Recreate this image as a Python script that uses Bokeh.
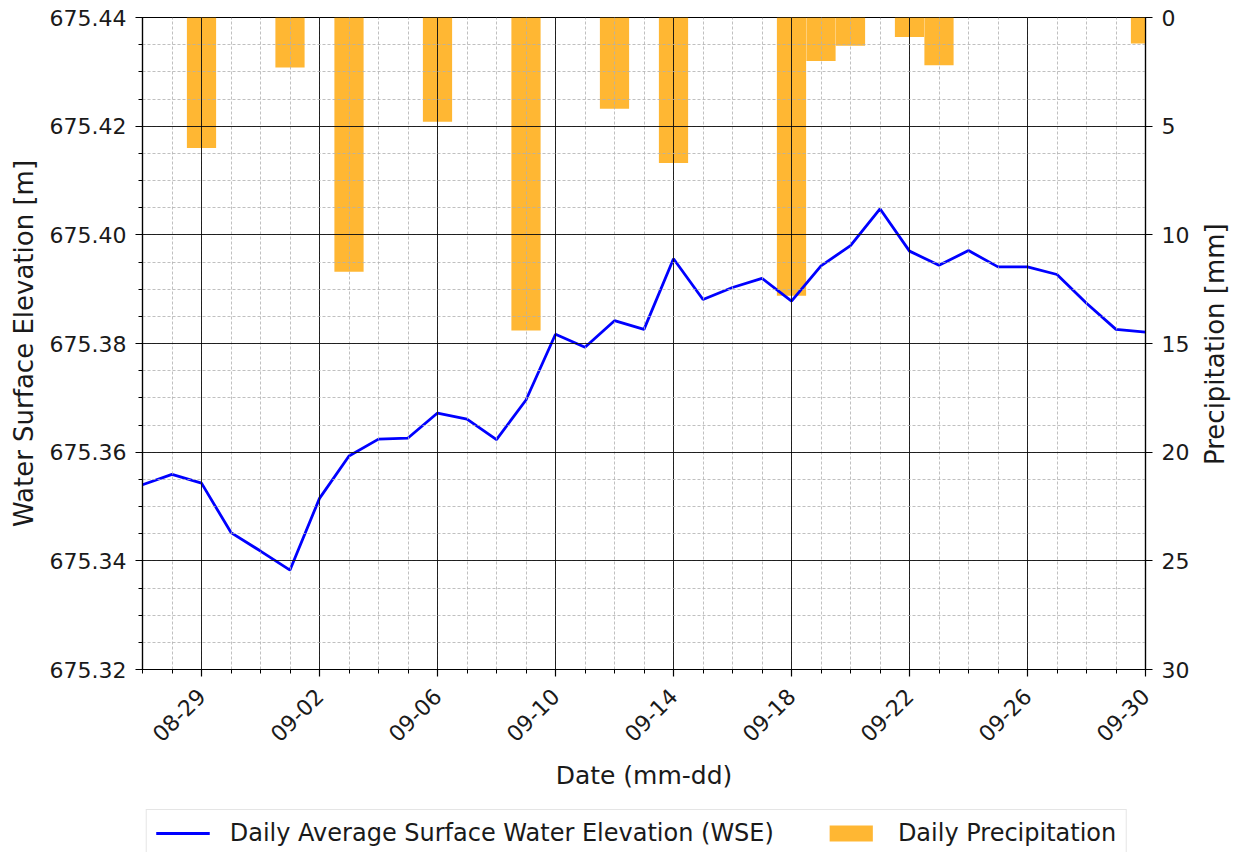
import math
import pandas as pd
from bokeh.plotting import figure
from bokeh.layouts import column
from bokeh.models import (Range1d, LinearAxis, SingleIntervalTicker, FixedTicker,
                          DatetimeTickFormatter, NumeralTickFormatter, Legend, LegendItem,
                          ColumnDataSource)
from bokeh.embed import file_html
from bokeh.resources import INLINE

YEAR = "2023"
# ---- data -------------------------------------------------------------
wse_dates = list(pd.date_range(YEAR + "-08-27", YEAR + "-09-30", freq="D"))
wse_m = [675.3540, 675.3559, 675.3543, 675.3452, 675.3418, 675.3383, 675.3515,
         675.3593, 675.3624, 675.3626, 675.3672, 675.3661, 675.3623, 675.3696,
         675.3817, 675.3793, 675.3842, 675.3826, 675.3956, 675.3881, 675.3903,
         675.3920, 675.3878, 675.3943, 675.3980, 675.4048, 675.3970, 675.3944,
         675.3971, 675.3941, 675.3941, 675.3927, 675.3874, 675.3826, 675.3821]

rain_days = ["08-29", "09-01", "09-03", "09-06", "09-09", "09-12", "09-14",
             "09-18", "09-19", "09-20", "09-22", "09-23", "09-30"]
rain_mm = [6.0, 2.3, 11.7, 4.8, 14.4, 4.2, 6.7, 12.8, 2.0, 1.3, 0.9, 2.2, 1.2]

x_tick_labels = ["08-29", "09-02", "09-06", "09-10", "09-14", "09-18",
                 "09-22", "09-26", "09-30"]
x_start, x_end = "08-27", "09-30"
wse_lim = (675.32, 675.44)
rain_lim = (30, 0)

RAIN_TITLE = "Precipitation [mm]"
LINE_LABEL = "Daily Average Surface Water Elevation (WSE)"
BAR_LABEL = "Daily Precipitation"


def to_dt(md):
    return pd.Timestamp(YEAR + "-" + md)


def to_ms(ts):
    return int(ts.value // 10**6)


FONT = "DejaVu Sans"
TXT = "#1a1a1a"
FRAME_W, FRAME_H = 1003, 652
LINE_STYLE = dict(line_color="blue", line_width=2.8)
BAR_STYLE = dict(fill_color="orange", fill_alpha=0.8, line_color=None)
day_ms = 86400000

src_line = ColumnDataSource(dict(date=wse_dates, wse=wse_m))
src_bar = ColumnDataSource(dict(date=[to_dt(d) for d in rain_days], mm=rain_mm))

p = figure(x_axis_type="datetime",
           x_range=Range1d(to_dt(x_start), to_dt(x_end)),
           y_range=Range1d(*wse_lim),
           frame_width=FRAME_W, frame_height=FRAME_H,
           min_border_left=142, min_border_right=60,
           min_border_top=17, min_border_bottom=139,
           output_backend="svg", toolbar_location=None,
           background_fill_color="white", border_fill_color="white")
p.extra_y_ranges = {"precip": Range1d(start=rain_lim[0], end=rain_lim[1])}

p.outline_line_color = "black"
p.outline_line_width = 1.2

bars = p.vbar(x="date", top="mm", bottom=0, width=day_ms * 0.99, source=src_bar,
              y_range_name="precip", level="underlay", **BAR_STYLE)

line = p.line(x="date", y="wse", source=src_line, **LINE_STYLE)

# x axis
major = [to_ms(to_dt(d)) for d in x_tick_labels]
minor = [to_ms(d) for d in pd.date_range(to_dt(x_start), to_dt(x_end), freq="D")]
p.xaxis.ticker = FixedTicker(ticks=major, minor_ticks=minor)
fmt = "%m-%d"
p.xaxis.formatter = DatetimeTickFormatter(days=fmt, months=fmt, hours=fmt, years=fmt,
                                          minutes=fmt, hourmin=fmt, seconds=fmt)
p.xaxis.major_label_orientation = math.pi / 4
p.xaxis.axis_label = "Date (mm-dd)"

# left axis
p.yaxis.ticker = SingleIntervalTicker(interval=0.02, num_minor_ticks=4)
p.yaxis.formatter = NumeralTickFormatter(format="0.00")
p.yaxis.axis_label = "Water Surface Elevation [m]"

# right axis (precipitation, inverted)
ax2 = LinearAxis(y_range_name="precip",
                 ticker=SingleIntervalTicker(interval=5, num_minor_ticks=0))
p.add_layout(ax2, "right")

for ax in [p.xaxis[0], p.yaxis[0], ax2]:
    ax.axis_line_color = "black"
    ax.axis_line_width = 1.2
    ax.major_tick_line_color = "black"
    ax.major_tick_line_width = 1.2
    ax.major_tick_in = 0
    ax.major_tick_out = 7
    ax.minor_tick_line_color = "black"
    ax.minor_tick_line_width = 1
    ax.minor_tick_in = 0
    ax.minor_tick_out = 4
    ax.major_label_text_font = FONT
    ax.major_label_text_font_size = "22px"
    ax.major_label_text_color = TXT
    ax.major_label_standoff = 9
    ax.axis_label_text_font = FONT
    ax.axis_label_text_font_size = "26px"
    ax.axis_label_text_font_style = "normal"
    ax.axis_label_text_color = TXT
    ax.axis_label_standoff = 8
ax2.minor_tick_line_color = None
p.xaxis.major_label_standoff = 16
p.xaxis.axis_label_standoff = 9
p.xaxis.axis_label_text_font_size = "25px"

# right-hand title reading bottom-to-top (like the left one):
# a tick-less axis whose single label starts half a title-length below mid-height
title_px = 243
mid = sum(rain_lim) / 2
anchor = round(mid + (title_px / 2) * abs(rain_lim[0] - rain_lim[1]) / FRAME_H, 2)
ax3 = LinearAxis(y_range_name="precip", ticker=FixedTicker(ticks=[anchor], minor_ticks=[]),
                 major_label_overrides={anchor: RAIN_TITLE})
ax3.axis_line_color = None
ax3.major_tick_line_color = None
ax3.minor_tick_line_color = None
ax3.major_tick_in = 0
ax3.major_tick_out = 0
ax3.major_label_orientation = math.pi / 2
ax3.major_label_standoff = 23
ax3.major_label_text_font = FONT
ax3.major_label_text_font_size = "26px"
ax3.major_label_text_color = TXT
p.add_layout(ax3, "right")

# grids
for g in [p.xgrid[0], p.ygrid[0]]:
    g.grid_line_color = "black"
    g.grid_line_alpha = 0.85
    g.grid_line_width = 1
    g.minor_grid_line_color = "#b0b0b0"
    g.minor_grid_line_alpha = 0.8
    g.minor_grid_line_dash = "3 2"
    g.minor_grid_line_width = 1
    g.level = "glyph"

# ---- legend strip below the chart ------------------------------------
# same series re-used as hidden legend proxies
leg = figure(width=1233, height=60, min_border_left=113, min_border_right=0,
             min_border_top=0, min_border_bottom=0,
             x_range=Range1d(0, 1), y_range=Range1d(0, 1),
             x_axis_type=None, y_axis_type=None, toolbar_location=None,
             output_backend="svg", outline_line_color=None,
             background_fill_color="white", border_fill_color="white")
leg.xgrid.visible = False
leg.ygrid.visible = False
l_line = leg.line(x="date", y="wse", source=src_line, **LINE_STYLE)
l_bar = leg.vbar(x="date", top="mm", bottom=0, width=day_ms, source=src_bar, **BAR_STYLE)
l_line.visible = False
l_bar.visible = False

legend = Legend(items=[LegendItem(label=LINE_LABEL, renderers=[l_line]),
                       LegendItem(label=BAR_LABEL, renderers=[l_bar])],
                orientation="horizontal", location="top_center", click_policy="none")
legend.label_text_font = FONT
legend.label_text_font_size = "24px"
legend.label_text_color = TXT
legend.glyph_width = 54
legend.glyph_height = 20
legend.label_standoff = 20
legend.spacing = 50
legend.padding = 9
legend.margin = 1
legend.border_line_color = "#cccccc"
legend.border_line_width = 1
legend.background_fill_alpha = 1
leg.add_layout(legend)

layout = column(p, leg, spacing=0)
open("out.html", "w").write(file_html(layout, INLINE))
